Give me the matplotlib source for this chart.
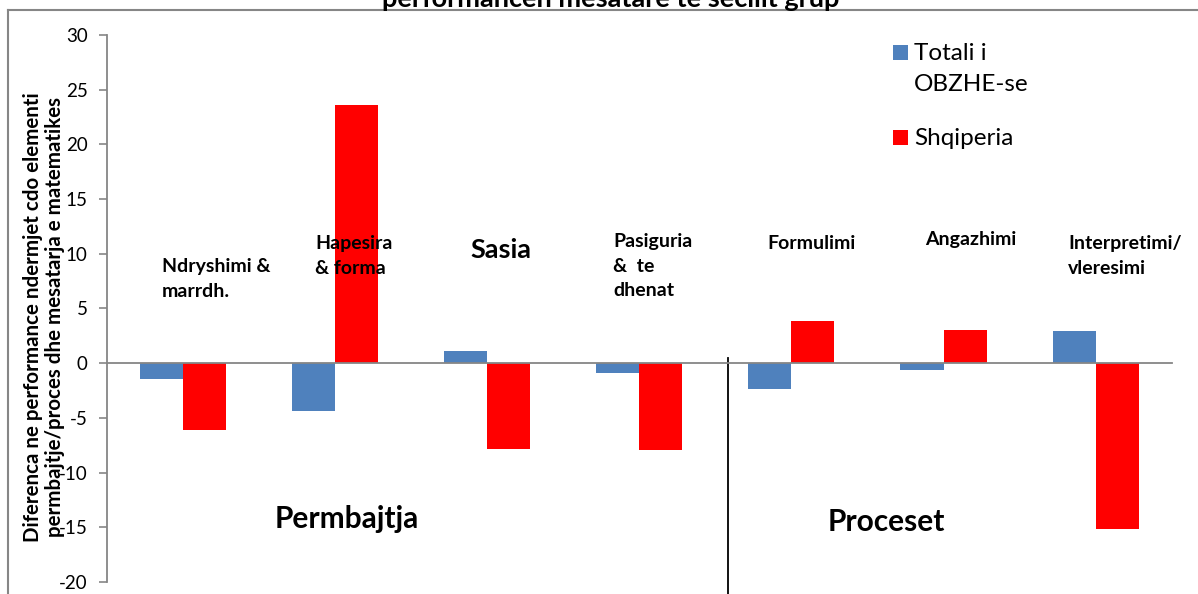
import matplotlib
matplotlib.use('Agg')
import matplotlib.pyplot as plt
from matplotlib.lines import Line2D
from matplotlib.patches import Rectangle
import numpy as np

plt.rcParams['font.family'] = ['Lato', 'DejaVu Sans']

# te dhenat
categories = ['Ndryshimi &\nmarrdh.', 'Hapesira\n& forma', 'Sasia', 'Pasiguria\n&  te\ndhenat',
              'Formulimi', 'Angazhimi', 'Interpretimi/\nvleresimi']
totali_obzhe = [-1.45, -4.4, 1.1, -0.9, -2.35, -0.65, 2.9]
shqiperia = [-6.1, 23.6, -7.8, -7.9, 3.85, 3.0, -15.15]
series_names = ['Totali i\nOBZHE-se', 'Shqiperia']
y_ticks = [30, 25, 20, 15, 10, 5, 0, -5, -10, -15, -20]

blue = '#4F81BD'
red = '#FF0000'
gray = '#868686'

fig = plt.figure(figsize=(11.98, 5.94), dpi=100)
ax = fig.add_axes([0.0893, 0.0202, 0.8887, 0.9209])

x = np.arange(len(categories))
w = 0.283
ax.bar(x - w / 2, totali_obzhe, width=w, color=blue, zorder=2)
ax.bar(x + w / 2, shqiperia, width=w, color=red, zorder=2)

ax.set_xlim(-0.5, 6.5)
ax.set_ylim(-20, 30)
ax.set_yticks(y_ticks)
ax.set_yticklabels([str(v) for v in y_ticks], fontsize=13.5)
ax.tick_params(axis='y', direction='out', length=6, width=1.2, color=gray, pad=8)
ax.set_xticks([])

for s in ['top', 'right']:
    ax.spines[s].set_visible(False)
ax.spines['left'].set_color(gray)
ax.spines['left'].set_linewidth(1.3)
ax.spines['bottom'].set_position(('data', 0))
ax.spines['bottom'].set_color(gray)
ax.spines['bottom'].set_linewidth(1.3)
ax.spines['bottom'].set_zorder(3)

# etiketat e kategorive brenda grafikut
label_pos = [(-0.14, 7.72), (0.87, 9.78), (1.89, 10.33), (2.83, 8.87),
             (3.84, 10.97), (4.88, 11.33), (5.82, 9.78)]
label_size = [14, 14, 19.5, 14, 14, 14, 14]
for (lx, ly), txt, fs in zip(label_pos, categories, label_size):
    ax.text(lx, ly, txt, fontsize=fs, fontweight='bold', ha='left', va='center',
            linespacing=1.56, zorder=4)

ax.text(0.6, -14.2, 'Permbajtja', fontsize=21.5, fontweight='bold', ha='left', va='center')
ax.text(4.24, -14.5, 'Proceset', fontsize=21.5, fontweight='bold', ha='left', va='center')

# vija ndarese mes permbajtjes dhe proceseve
ax.plot([3.58, 3.58], [0.5, -21.5], color='black', linewidth=1.3, clip_on=False, zorder=3)

ax.set_ylabel('Diferenca ne performance ndermjet cdo elementi\npermbajtje/proces dhe mesatarja e matematikes',
              fontsize=14.8, fontweight='bold', linespacing=1.15)
ax.yaxis.set_label_coords(-0.039, 0.4845)

# legjenda
for col, y0, name, ty in zip([blue, red], [0.899, 0.7559], series_names, [0.884, 0.7665]):
    fig.add_artist(Rectangle((0.7454, y0), 0.01252, 0.02525, transform=fig.transFigure,
                             facecolor=col, edgecolor='none'))
    fig.text(0.7632, ty, name, fontsize=17.5, ha='left', va='center', linespacing=1.55)

# titulli (i prere ne krye)
fig.text(0.51, 0.989, 'performancen mesatare te secilit grup', fontsize=19.5,
         fontweight='bold', ha='center', va='baseline')

# korniza e grafikut
fig.add_artist(Line2D([0.0067, 1.0], [0.983, 0.983], color=gray, linewidth=1.5))
fig.add_artist(Line2D([0.0067, 0.0067], [0.0, 0.983], color=gray, linewidth=1.5))

fig.savefig('out.png', dpi=100)
